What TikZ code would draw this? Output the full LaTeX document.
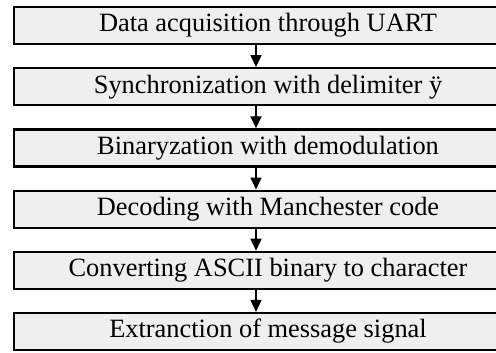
\documentclass[tikz,border=0pt]{standalone}
\usepackage{fontspec}
\setmainfont{Liberation Serif}
\usetikzlibrary{arrows.meta}
\definecolor{boxgray}{HTML}{EFEFEF}
\begin{document}
\begin{tikzpicture}[x=1bp,y=-1bp,
 stepbox/.style={draw=black, line width=2.2bp, fill=boxgray, minimum width=508bp, minimum height=37bp, inner sep=0pt, font=\fontsize{26.5}{30}\selectfont},
 flow/.style={line width=1.6bp, -{Triangle[length=12bp,width=11bp]}}]
\useasboundingbox (0,0) rectangle (496,352);
\clip (0,0) rectangle (496,352);
\node[stepbox] (b1) at (268,25.5) {Data acquisition through UART};
\node[stepbox] (b2) at (268,86.7) {Synchronization with delimiter ÿ};
\node[stepbox] (b3) at (268,147.9) {Binaryzation with demodulation};
\node[stepbox] (b4) at (268,209.1) {Decoding with Manchester code};
\node[stepbox] (b5) at (268,270.3) {Converting ASCII binary to character};
\node[stepbox] (b6) at (268,331.5) {Extranction of message signal};
\foreach \a/\b in {b1/b2,b2/b3,b3/b4,b4/b5,b5/b6}
  \draw[flow] ([xshift=-12bp]\a.south) -- ([xshift=-12bp]\b.north);
\end{tikzpicture}
\end{document}
